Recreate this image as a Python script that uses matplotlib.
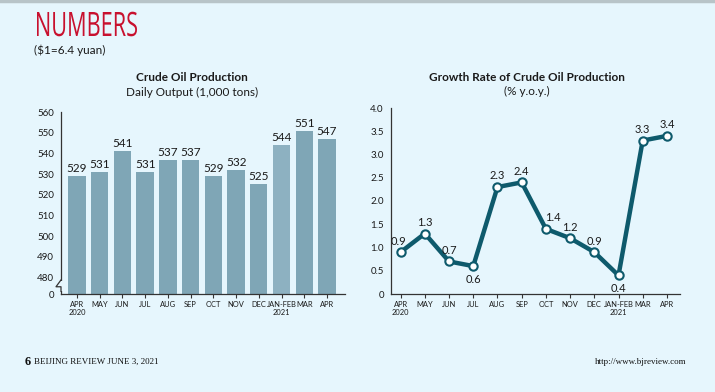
import numpy as np
import matplotlib.pyplot as plt
from matplotlib.patches import Rectangle, PathPatch
from matplotlib.textpath import TextPath
from matplotlib.font_manager import FontProperties
from matplotlib.transforms import Affine2D

months = ["APR\n2020", "MAY", "JUN", "JUL", "AUG", "SEP", "OCT", "NOV",
          "DEC", "JAN-FEB\n2021", "MAR", "APR"]
output = [529, 531, 541, 531, 537, 537, 529, 532, 525, 544, 551, 547]
growth = [0.9, 1.3, 0.7, 0.6, 2.3, 2.4, 1.4, 1.2, 0.9, 0.4, 3.3, 3.4]
bar_ticks = [480, 490, 500, 510, 520, 530, 540, 550, 560]
line_ticks = [0, 0.5, 1.0, 1.5, 2.0, 2.5, 3.0, 3.5, 4.0]
line_tick_labels = ["0", "0.5", "1.0", "1.5", "2.0", "2.5", "3.0", "3.5", "4.0"]

BG = "#e6f6fd"
BAR = "#7fa6b6"
BAR_LIGHT = "#8db1c1"
LINE = "#0e5a6c"
TXT = "#1a1a1a"
FONT = "Lato"

plt.rcParams["font.family"] = [FONT, "DejaVu Sans"]

W, H = 715, 392
fig = plt.figure(figsize=(W / 100, H / 100), dpi=100)
fig.patch.set_facecolor(BG)

# top border
fig.add_artist(plt.Line2D([0, 1], [0.997, 0.997], color="#b8c4c8", lw=2.5,
                          transform=fig.transFigure))

# condensed red heading: text path squeezed horizontally (pixel coords)
tp = TextPath((0, 0), "NUMBERS", size=100,
              prop=FontProperties(family="Open Sans", weight="normal"))
bb = tp.get_extents()
sx = 100 / bb.width
sy = 24 / 100 / 0.714
fig.add_artist(PathPatch(tp, transform=Affine2D().translate(-bb.x0, 0)
                         .scale(sx, sy).translate(37, H - 36),
                         facecolor="#c8102e", edgecolor="none"))
fig.text(34 / W, 1 - 50 / H, "($1=6.4 yuan)", color=TXT, fontsize=8.5,
         va="center", ha="left")

x = np.arange(len(months))
y_floor = 472

# ---------------- bar chart ----------------
ax1 = fig.add_axes([61 / W, 1 - 294 / H, 284 / W, 182 / H])
ax1.set_facecolor(BG)
colors = [BAR] * len(output)
colors[9] = BAR_LIGHT
vals = np.array(output)
ax1.bar(x, vals - y_floor, bottom=y_floor, width=0.76, color=colors, zorder=2)
for xi, v in zip(x, output):
    ax1.text(xi, v + 1.0, str(v), ha="center", va="bottom", fontsize=8.5,
             color=TXT)
ax1.set_xlim(-0.7, 11.79)
ax1.set_ylim(y_floor, 560)
ax1.set_yticks([y_floor] + bar_ticks)
ax1.set_yticklabels(["0"] + [str(t) for t in bar_ticks])
ax1.set_xticks(x)
ax1.set_xticklabels(months)

# axis break on the y axis
tr = ax1.get_yaxis_transform()
ax1.add_patch(Rectangle((-0.02, 473.5), 0.04, 5.0, transform=tr,
                        facecolor=BG, edgecolor="none", zorder=5,
                        clip_on=False))
px = 1 / 284
ax1.plot([0, -5 * px, 0, 0], [478.8, 475.5, 475.5, 473.3], transform=tr,
         color="#333333", lw=0.9, zorder=6, clip_on=False)

ax1.text(0.46, 1.19, "Crude Oil Production", transform=ax1.transAxes,
         ha="center", va="center", fontsize=8.5, fontweight="bold", color=TXT)
ax1.text(0.46, 1.11, "Daily Output (1,000 tons)", transform=ax1.transAxes,
         ha="center", va="center", fontsize=8.5, color=TXT)

# ---------------- line chart ----------------
ax2 = fig.add_axes([390.7 / W, 1 - 294 / H, 289.3 / W, 186 / H])
ax2.set_facecolor(BG)
ax2.plot(x, growth, color=LINE, lw=3.2, zorder=2, solid_joinstyle="round")
ax2.plot(x, growth, "o", ms=6, mfc="white", mec=LINE, mew=1.5, zorder=3)
below = {3, 9}
nudge = {0: -0.1, 6: 0.3}
for xi, v in zip(x, growth):
    lx = xi + nudge.get(xi, 0)
    if xi in below:
        ax2.text(lx, v - 0.17, f"{v:.1f}", ha="center", va="top",
                 fontsize=8, color=TXT)
    else:
        ax2.text(lx, v + 0.12, f"{v:.1f}", ha="center", va="bottom",
                 fontsize=8, color=TXT)
ax2.set_xlim(-0.41, 11.54)
ax2.set_ylim(0, 4.0)
ax2.set_yticks(line_ticks)
ax2.set_yticklabels(line_tick_labels)
ax2.set_xticks(x)
ax2.set_xticklabels(months)
ax2.text(0.47, 1.165, "Growth Rate of Crude Oil Production",
         transform=ax2.transAxes, ha="center", va="center", fontsize=8.5,
         fontweight="bold", color=TXT)
ax2.text(0.47, 1.09, "(% y.o.y.)", transform=ax2.transAxes, ha="center",
         va="center", fontsize=8.5, color=TXT)

for ax in (ax1, ax2):
    for s in ("top", "right"):
        ax.spines[s].set_visible(False)
    for s in ("left", "bottom"):
        ax.spines[s].set_color("#333333")
        ax.spines[s].set_linewidth(0.9)
    ax.tick_params(axis="x", labelsize=5.4, colors="#333333",
                   labelcolor=TXT, length=3, width=0.8, pad=2)
    ax.tick_params(axis="y", labelsize=7, labelcolor=TXT, length=0, pad=5)
    for lab in ax.get_xticklabels():
        lab.set_linespacing(1.1)

# footer
fig.text(25 / W, 1 - 362 / H, "6", family="Liberation Serif",
         fontweight="bold", fontsize=9, va="center", color="#111111")
fig.text(34 / W, 1 - 362 / H, "BEIJING REVIEW JUNE 3, 2021",
         family="Liberation Serif", fontsize=6.5, va="center", color="#111111")
fig.text(686 / W, 1 - 362 / H, "http://www.bjreview.com",
         family="Liberation Serif", fontsize=6.5, va="center", ha="right",
         color="#111111")

fig.savefig("out.png", dpi=100, facecolor=BG)
